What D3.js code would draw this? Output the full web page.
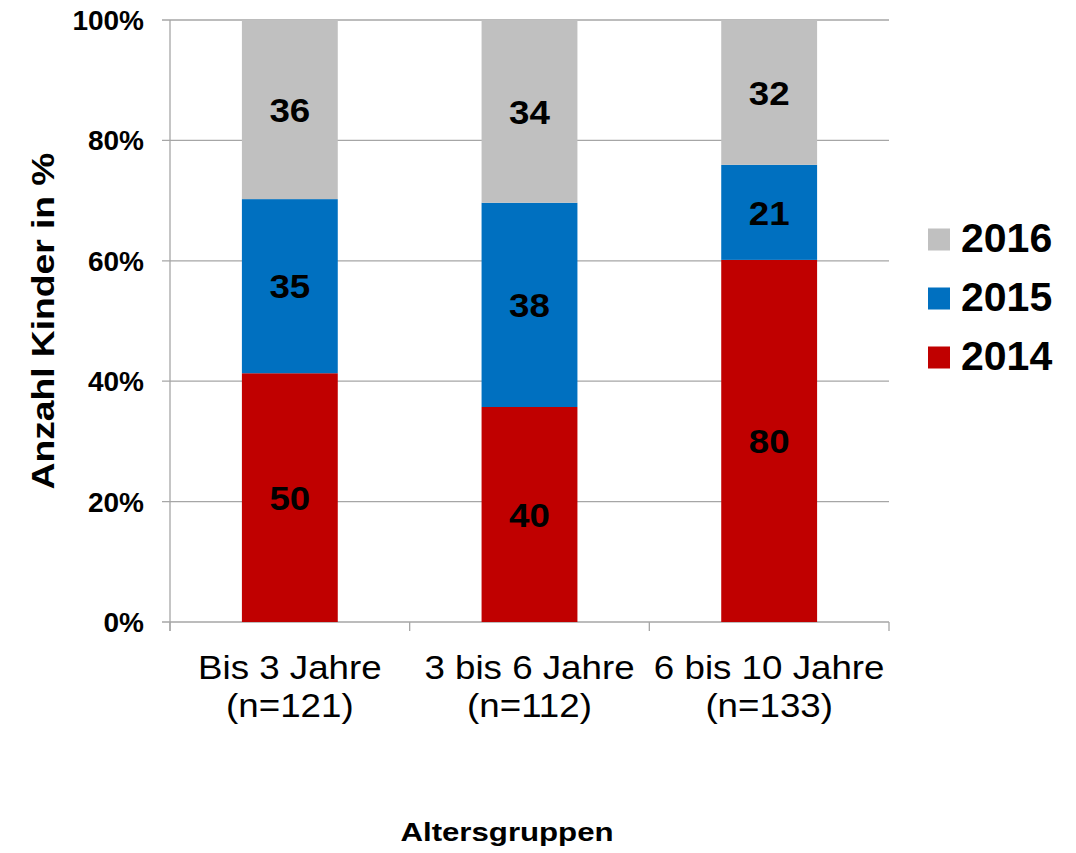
<!DOCTYPE html>
<html>
<head>
<meta charset="utf-8">
<script src="https://cdn.jsdelivr.net/npm/d3@7/dist/d3.min.js"></script>
<style>
  body{margin:0;background:#fff;}
  svg{display:block;font-family:"Liberation Sans",Arial,sans-serif;}
</style>
</head>
<body>
<div id="chart"></div>
<script>
const categories = ['Bis 3 Jahre|(n=121)', '3 bis 6 Jahre|(n=112)', '6 bis 10 Jahre|(n=133)'];
const years = ['2014', '2015', '2016'];
const v2014 = [50, 40, 80];
const v2015 = [35, 38, 21];
const v2016 = [36, 34, 32];
const yTicks = [0, 0.2, 0.4, 0.6, 0.8, 1];
const colors = {'2014':'#c00000', '2015':'#0070c0', '2016':'#c0c0c0'};

const W=1076, H=853;
const m = {left:170, right:187, top:20, bottom:231};
const svg = d3.select('#chart').append('svg').attr('width',W).attr('height',H);

const x = d3.scaleBand().domain(categories).range([m.left, W-m.right]).paddingInner(0.6).paddingOuter(0.3);
const y = d3.scaleLinear().domain([0,1]).range([H-m.bottom, m.top]);

// gridlines (tick stub to the left of the axis)
svg.append('g').selectAll('line').data(yTicks).join('line')
  .attr('x1', m.left-8).attr('x2', W-m.right)
  .attr('y1', d=>y(d)).attr('y2', d=>y(d))
  .attr('stroke','#a6a6a6').attr('stroke-width',1.3);

// normalized stack -> 100% bars, labels show the counts
const rows = categories.map((c,i)=>({cat:c, '2014':v2014[i], '2015':v2015[i], '2016':v2016[i]}));
const series = d3.stack().keys(years).offset(d3.stackOffsetExpand)(rows);

const gBars = svg.append('g');
series.forEach(s=>{
  const g = gBars.append('g');
  g.selectAll('rect').data(s).join('rect')
    .attr('x', d=>x(d.data.cat))
    .attr('width', x.bandwidth())
    .attr('y', d=>y(d[1]))
    .attr('height', d=>y(d[0])-y(d[1]))
    .attr('fill', colors[s.key]);
  g.selectAll('text').data(s).join('text')
    .attr('transform', d=>`translate(${x(d.data.cat)+x.bandwidth()/2},${(y(d[0])+y(d[1]))/2}) scale(1.08,1)`)
    .attr('dy','0.36em')
    .attr('text-anchor','middle')
    .attr('font-size',34).attr('font-weight','bold').attr('fill','#000')
    .text(d=>d.data[s.key]);
});

// axis lines + category boundary ticks
svg.append('line').attr('x1',m.left).attr('x2',m.left).attr('y1',m.top).attr('y2',y(0)+9)
  .attr('stroke','#a6a6a6').attr('stroke-width',1.3);
const bounds = [m.left].concat(categories.map(c=>x(c)+x.bandwidth()+x.step()*x.paddingInner()/2));
bounds[bounds.length-1] = W-m.right;
svg.append('g').selectAll('line').data(bounds).join('line')
  .attr('x1',d=>d).attr('x2',d=>d).attr('y1',y(0)).attr('y2',y(0)+9)
  .attr('stroke','#a6a6a6').attr('stroke-width',1.3);

// y tick labels
svg.append('g').selectAll('text').data(yTicks).join('text')
  .attr('x', m.left-26).attr('y', d=>y(d)).attr('dy','0.36em')
  .attr('text-anchor','end').attr('font-size',28).attr('font-weight','bold')
  .text(d=>d3.format('.0%')(d));

// x tick labels (two lines)
const xl = svg.append('g').selectAll('text').data(categories).join('text')
  .attr('text-anchor','middle').attr('font-size',34)
  .attr('transform', d=>`translate(${x(d)+x.bandwidth()/2},${y(0)+57}) scale(1.08,1)`);
xl.selectAll('tspan').data(d=>d.split('|')).join('tspan')
  .attr('x',0).attr('dy',(d,i)=>i? 38 : 0).text(d=>d);

// axis titles
svg.append('text').attr('transform',`translate(54,321) rotate(-90) scale(1.2,1)`)
  .attr('text-anchor','middle').attr('font-size',31).attr('font-weight','bold')
  .text('Anzahl Kinder in %');
svg.append('text').attr('transform','translate(507,841) scale(1.2,1)')
  .attr('text-anchor','middle').attr('font-size',26).attr('font-weight','bold')
  .text('Altersgruppen');

// legend
const legendKeys = years.slice().reverse();
const lg = svg.append('g').selectAll('g').data(legendKeys).join('g')
  .attr('transform',(d,i)=>`translate(928,${239.5+i*59})`);
lg.append('rect').attr('x',0).attr('y',-11).attr('width',22).attr('height',22).attr('fill',d=>colors[d]);
lg.append('text').attr('x',33).attr('dy','0.31em').attr('font-size',41).attr('font-weight','bold').text(d=>d);
</script>
</body>
</html>
